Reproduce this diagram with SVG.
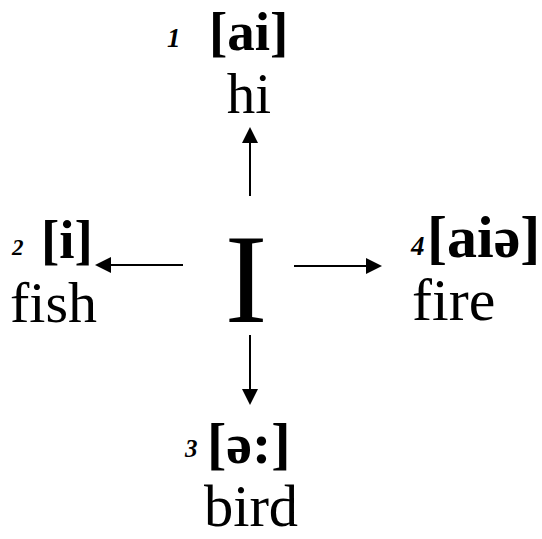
<svg xmlns="http://www.w3.org/2000/svg" width="542" height="539" viewBox="0 0 542 539">
<style>
text{font-family:"Liberation Serif","Times New Roman",serif;fill:#000}
.ipa{font-family:"Liberation Serif","Times New Roman",serif;font-weight:bold}
.num{font-family:"Liberation Serif","Times New Roman",serif;font-weight:bold;font-style:italic}
.big{font-size:128px}
.conn line{stroke:#000;stroke-width:2}
.conn polygon{fill:#000}
</style>
<rect width="542" height="539" fill="#fff"/>
<g id="center"><text class="big" x="246" y="322" text-anchor="middle">I</text></g>
<g id="node1">
<text class="num" x="167" y="47" font-size="27">1</text>
<text class="ipa" x="209" y="50" font-size="55">[ai]</text>
<text x="249" y="113" text-anchor="middle" font-size="57">hi</text>
</g>
<g id="node2">
<text class="num" x="12" y="255" font-size="23">2</text>
<text class="ipa" x="41" y="258" font-size="55">[i]</text>
<text x="10" y="322" font-size="58">fish</text>
</g>
<g id="node3">
<text class="num" x="185" y="457" font-size="25">3</text>
<text class="ipa" x="207" y="463" font-size="58">[ə:]</text>
<text x="251" y="526" text-anchor="middle" font-size="58.5">bird</text>
</g>
<g id="node4">
<text class="num" x="411" y="255" font-size="27">4</text>
<text class="ipa" x="427" y="257" font-size="60">[aiə]</text>
<text x="412" y="320" font-size="60">fire</text>
</g>
<g class="conn" id="connectors">
<line x1="250" y1="196" x2="250" y2="141"/>
<polygon points="250,127 242,143 258,143"/>
<line x1="250" y1="335" x2="250" y2="390"/>
<polygon points="250,405 242,389 258,389"/>
<line x1="183" y1="265" x2="108" y2="265"/>
<polygon points="95,265 111,257 111,273"/>
<line x1="294" y1="266" x2="369" y2="266"/>
<polygon points="382,266 366,258 366,274"/>
</g>
</svg>
